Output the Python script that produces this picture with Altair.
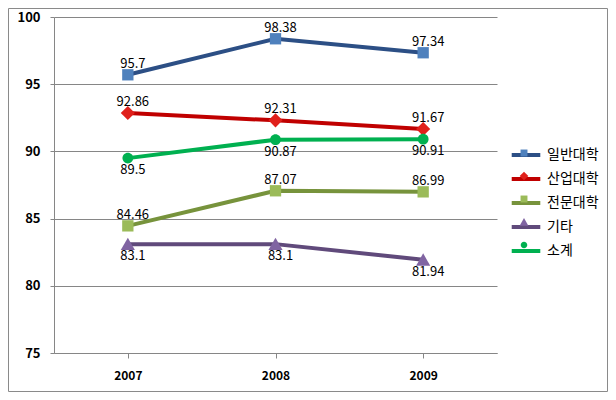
import altair as alt
import pandas as pd

years = ["2007", "2008", "2009"]
series = ["일반대학", "산업대학", "전문대학", "기타", "소계"]
v_general = [95.7, 98.38, 97.34]
v_industry = [92.86, 92.31, 91.67]
v_college = [84.46, 87.07, 86.99]
v_other = [83.1, 83.1, 81.94]
v_total = [89.5, 90.87, 90.91]
label_side = ["above", "above", "above", "below", "below"]

line_colors = ["#2C4F85", "#C00000", "#77933C", "#604A7B", "#00B050"]
marker_colors = ["#4F81BD", "#E0201B", "#9BBB59", "#8064A2", "#00B050"]
shapes = [
    "M-0.4,-0.4H0.4V0.4H-0.4Z",
    "M0,-0.5L0.5,0L0,0.5L-0.5,0Z",
    "M-0.4,-0.4H0.4V0.4H-0.4Z",
    "M0,-0.45L0.5,0.42L-0.5,0.42Z",
    "M-0.38,0A0.38,0.38 0 1,0 0.38,0A0.38,0.38 0 1,0 -0.38,0Z",
]

rows = []
for s, vals, side in zip(series, [v_general, v_industry, v_college, v_other, v_total], label_side):
    for y, v in zip(years, vals):
        rows.append({"year": y, "series": s, "value": v, "side": side, "label": f"{v:g}"})
df = pd.DataFrame(rows)

FONT = "Noto Sans CJK KR"
LEG_SIZE = 300
LEG_X = 461
LEG_Y = 127

x = alt.X("year:N", title=None, scale=alt.Scale(paddingInner=0, paddingOuter=0),
          axis=alt.Axis(labelAngle=0, labelFontWeight="bold", labelFontSize=12, labelFont=FONT,
                        labelColor="#000", domainColor="#868686", tickColor="#868686",
                        tickSize=5, labelPadding=12, bandPosition=0, grid=False))
y = alt.Y("value:Q", title=None, scale=alt.Scale(domain=[75, 100], nice=False, zero=False),
          axis=alt.Axis(values=[75, 80, 85, 90, 95, 100], labelFontWeight="bold", labelFontSize=13,
                        labelFont=FONT, labelColor="#000", domainColor="#868686",
                        tickColor="#868686", tickSize=4, labelPadding=10,
                        gridColor="#868686", gridWidth=1))

base = alt.Chart(df)

lines = base.mark_line(strokeWidth=4).encode(
    x=x, y=y,
    color=alt.Color("series:N", scale=alt.Scale(domain=series, range=line_colors),
                    legend=alt.Legend(orient="none", legendX=LEG_X, legendY=LEG_Y, title=None,
                                      symbolType="M-1.65,0H1.65", symbolStrokeWidth=4,
                                      symbolSize=LEG_SIZE,
                                      labelFontSize=14, labelFont=FONT, labelColor="#000",
                                      rowPadding=5, padding=0, labelOffset=10)),
    order=alt.Order("year:N"),
)

marker_legend = alt.Legend(orient="none", legendX=LEG_X, legendY=LEG_Y, title=None,
                           symbolSize=LEG_SIZE, labelFontSize=14, labelFont=FONT,
                           labelExpr="' '", labelColor="transparent", rowPadding=7, padding=0,
                           labelOffset=10, symbolStrokeWidth=0)

points = base.mark_point(filled=True, size=800, opacity=1, strokeWidth=0).encode(
    x=x, y=y,
    fill=alt.Fill("series:N", scale=alt.Scale(domain=series, range=marker_colors),
                  legend=marker_legend),
    shape=alt.Shape("series:N", scale=alt.Scale(domain=series, range=shapes),
                    legend=marker_legend),
)

above = base.transform_filter(alt.datum.side == "above").mark_text(
    dy=-11, dx=5, fontSize=13, font=FONT, color="#000").encode(x=x, y=y, text="label:N")
below = base.transform_filter(alt.datum.side == "below").mark_text(
    dy=12, dx=5, fontSize=13, font=FONT, color="#000").encode(x=x, y=y, text="label:N")

frame = alt.Chart(pd.DataFrame({"a": [0]})).mark_rect(
    fill=None, stroke="#8A8A8A", strokeWidth=1).encode(
    x=alt.value(-45.5), x2=alt.value(553.5), y=alt.value(-8.5), y2=alt.value(374.5))

chart = alt.layer(frame, lines, points, above, below).resolve_scale(
    color="independent", fill="independent", shape="independent"
).properties(
    width=443, height=336,
    autosize=alt.AutoSizeParams(type="none"),
    padding={"left": 46, "top": 9, "right": 111, "bottom": 39},
    background="white",
).configure_view(stroke=None)

chart.save("out.html", embed_options={"renderer": "svg", "actions": False})
